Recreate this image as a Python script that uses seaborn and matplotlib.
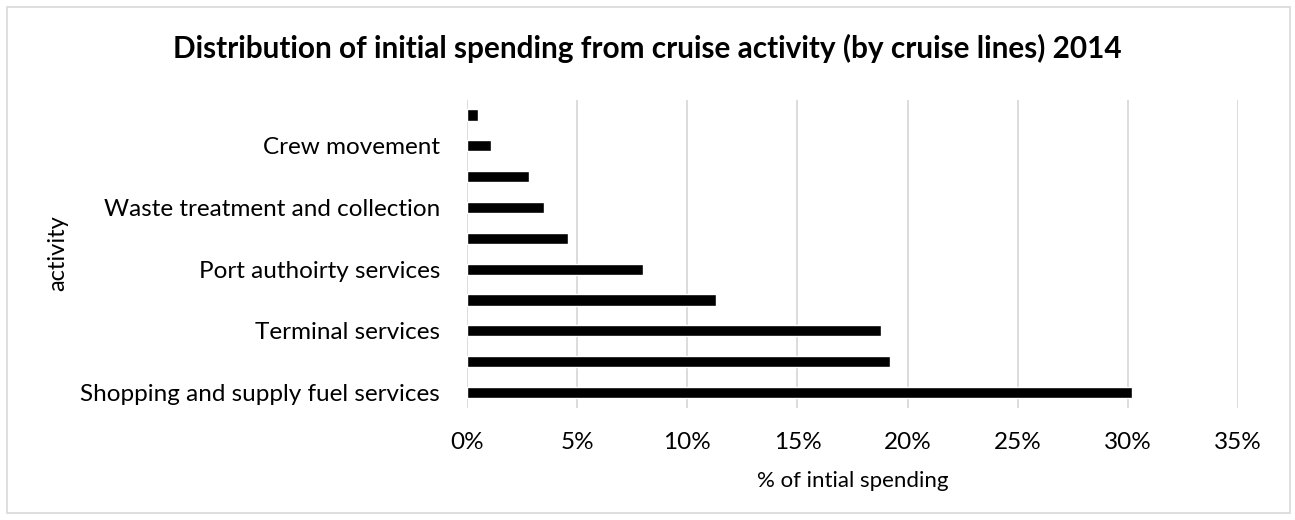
import matplotlib
matplotlib.use("Agg")
import matplotlib.pyplot as plt
from matplotlib.patches import Rectangle
from matplotlib.ticker import PercentFormatter, MultipleLocator
import seaborn as sns
import pandas as pd

# Data (bottom to top in the chart)
categories = [
    "Shopping and supply fuel services",
    "Category 2",
    "Terminal services",
    "Category 4",
    "Port authoirty services",
    "Category 6",
    "Waste treatment and collection",
    "Category 8",
    "Crew movement",
    "Category 10",
]
values = [30.2, 19.2, 18.8, 11.3, 8.0, 4.6, 3.5, 2.8, 1.1, 0.5]
shown_labels = [
    "Shopping and supply fuel services", "",
    "Terminal services", "",
    "Port authoirty services", "",
    "Waste treatment and collection", "",
    "Crew movement", "",
]

title = "Distribution of initial spending from cruise activity (by cruise lines) 2014"
x_label = "% of intial spending"
y_label = "activity"

sns.set_style("white")
plt.rcParams["font.family"] = ["Lato", "DejaVu Sans"]
plt.rcParams["text.color"] = "black"
plt.rcParams["axes.labelcolor"] = "black"

df = pd.DataFrame({"activity": categories[::-1], "value": values[::-1]})

W, H = 1295, 520
fig = plt.figure(figsize=(W / 100, H / 100), dpi=100)
left, right, top, bottom = 467, 1238, 99.6, 407.9
ax = fig.add_axes([left / W, 1 - bottom / H, (right - left) / W, (bottom - top) / H])

sns.barplot(data=df, y="activity", x="value", orient="h", color="black",
            width=0.36, ax=ax, order=categories[::-1], saturation=1)

ax.set_xlim(0, 35)
ax.xaxis.set_major_locator(MultipleLocator(5))
ax.xaxis.set_major_formatter(PercentFormatter(decimals=0))
ax.set_yticks(range(len(categories)))
ax.set_yticklabels(shown_labels[::-1])
ax.grid(axis="x", color="#d9d9d9", linewidth=1.3)
ax.grid(axis="y", visible=False)
ax.set_axisbelow(True)
for s in ax.spines.values():
    s.set_visible(False)
ax.tick_params(axis="both", length=0, labelsize=17.5, colors="black", labelcolor="black")
ax.tick_params(axis="y", pad=19.4)
ax.tick_params(axis="x", pad=17.6)

ax.set_xlabel(x_label, fontsize=16, color="black")
ax.xaxis.label.set_va("center")
ax.xaxis.set_label_coords(0.5, (bottom - 481) / (bottom - top))
ax.set_ylabel(y_label, fontsize=17, color="black")
ax.yaxis.label.set_va("center")
ax.yaxis.set_label_coords((58 - left) / (right - left), (bottom - 253) / (bottom - top))

fig.text(647.5 / W, 1 - 48 / H, title, ha="center", va="center",
         fontsize=21.4, fontweight="bold", color="black")

fig.patches.append(Rectangle((7 / W, 1 - 513 / H), (1290 - 7) / W, (513 - 7) / H,
                             transform=fig.transFigure, fill=False,
                             edgecolor="#d9d9d9", linewidth=1.2))

fig.savefig("out.png", dpi=100)
